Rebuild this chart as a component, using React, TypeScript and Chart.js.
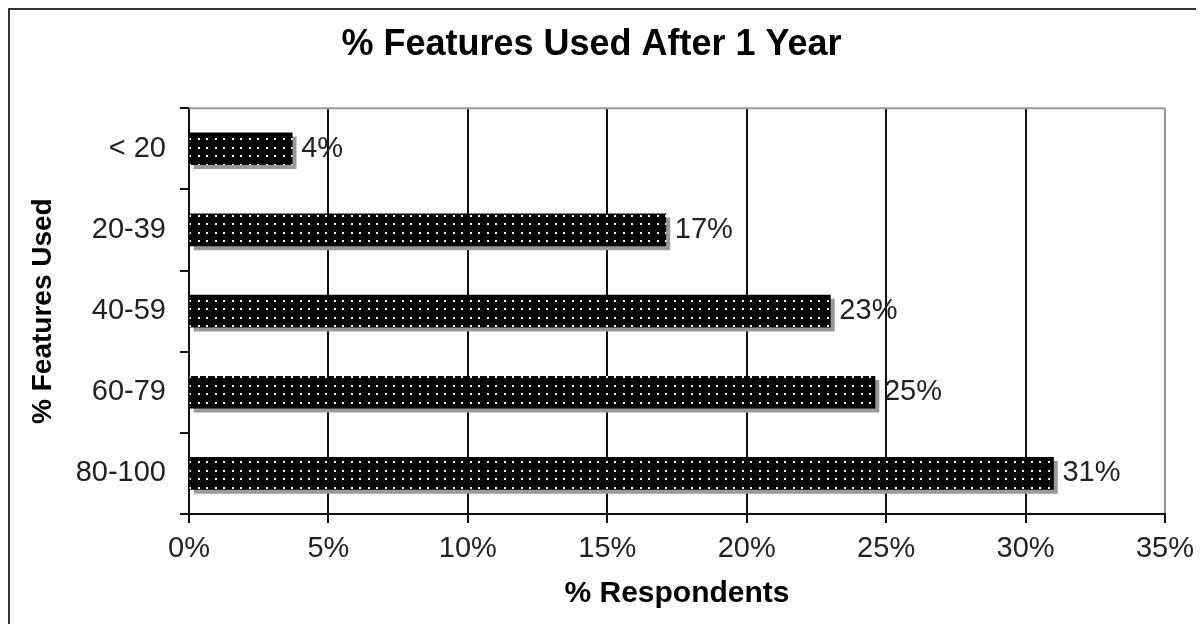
import React, { useEffect, useRef } from 'react';
import { Chart, registerables } from 'chart.js';

Chart.register(...registerables);

const chartTitle = '% Features Used After 1 Year';
const yAxisTitle = '% Features Used';
const xAxisTitle = '% Respondents';
const categories = ['< 20', '20-39', '40-59', '60-79', '80-100'];
const respondents = [3.7, 17.1, 23.0, 24.6, 31.0];
const xTickValues = [0, 5, 10, 15, 20, 25, 30, 35];

const FONT = "'Liberation Sans', Arial, Helvetica, sans-serif";

function makeDotPattern(): CanvasPattern | string {
  const tile = document.createElement('canvas');
  tile.width = 17;
  tile.height = 17;
  const t = tile.getContext('2d');
  if (!t) return '#000';
  t.fillStyle = '#000';
  t.fillRect(0, 0, 17, 17);
  t.fillStyle = '#f4f4f4';
  const pts = [
    [3, 3],
    [11, 3],
    [3, 11],
    [11, 11],
  ];
  pts.forEach(([x, y]) => {
    t.fillRect(x, y, 2, 2);
  });
  const ctx = document.createElement('canvas').getContext('2d');
  const p = ctx ? ctx.createPattern(tile, 'repeat') : null;
  return p || '#000';
}

const framePlugin = {
  id: 'frame',
  beforeDraw(chart: any) {
    const { ctx, width, height } = chart;
    ctx.save();
    ctx.fillStyle = '#fff';
    ctx.fillRect(0, 0, width, height);
    ctx.strokeStyle = '#333';
    ctx.lineWidth = 2;
    ctx.beginPath();
    ctx.moveTo(1, height);
    ctx.lineTo(1, 1);
    ctx.lineTo(width - 1, 1);
    ctx.lineTo(width - 1, height);
    ctx.stroke();
    ctx.restore();
  },
  beforeDatasetsDraw(chart: any) {
    const { ctx, chartArea } = chart;
    ctx.save();
    ctx.strokeStyle = '#999';
    ctx.lineWidth = 2;
    ctx.beginPath();
    ctx.moveTo(chartArea.left, chartArea.top);
    ctx.lineTo(chartArea.right, chartArea.top);
    ctx.stroke();
    ctx.restore();
  },
  beforeDatasetDraw(chart: any) {
    const { ctx } = chart;
    ctx.save();
    ctx.shadowColor = '#999';
    ctx.shadowOffsetX = 4;
    ctx.shadowOffsetY = 4;
    ctx.shadowBlur = 0;
  },
  afterDatasetDraw(chart: any) {
    chart.ctx.restore();
  },
  afterDatasetsDraw(chart: any) {
    const { ctx } = chart;
    const meta = chart.getDatasetMeta(0);
    const data = chart.data.datasets[0].data as number[];
    ctx.save();
    ctx.font = `29px ${FONT}`;
    ctx.fillStyle = '#222';
    ctx.textAlign = 'left';
    ctx.textBaseline = 'middle';
    meta.data.forEach((bar: any, i: number) => {
      ctx.fillText(Math.round(data[i]) + '%', bar.x + 9, bar.y);
    });
    ctx.restore();
  },
};

export default function App() {
  const ref = useRef<HTMLCanvasElement | null>(null);

  useEffect(() => {
    if (!ref.current) return;
    const pattern = makeDotPattern();
    const chart = new Chart(ref.current, {
      type: 'bar',
      data: {
        labels: categories,
        datasets: [
          {
            data: respondents,
            backgroundColor: pattern as any,
            borderWidth: 0,
            barThickness: 32,
          },
        ],
      },
      options: {
        indexAxis: 'y',
        animation: false,
        responsive: false,
        maintainAspectRatio: false,
        layout: { padding: { left: 0, right: 25, top: 0, bottom: 0 } },
        plugins: {
          legend: { display: false },
          tooltip: { enabled: false },
          title: {
            display: true,
            text: chartTitle,
            color: '#000',
            font: { family: FONT, size: 36, weight: 'bold' },
            padding: { top: 15, bottom: 42 },
          },
        },
        scales: {
          x: {
            type: 'linear',
            min: xTickValues[0],
            max: xTickValues[xTickValues.length - 1],
            afterBuildTicks: (scale: any) => {
              scale.ticks = xTickValues.map((v) => ({ value: v }));
            },
            afterFit: (scale: any) => {
              scale.height = 110;
              scale.paddingRight = 35;
              scale.paddingLeft = 0;
            },
            ticks: {
              color: '#222',
              font: { family: FONT, size: 29 },
              padding: 9,
              maxRotation: 0,
              callback: (v: any) => v + '%',
            },
            grid: {
              color: (c: any) => (c.tick && c.tick.value === 35 ? '#999' : '#111'),
              tickColor: '#111',
              lineWidth: 2,
              tickLength: 9,
              drawTicks: true,
            },
            border: { display: true, color: '#111', width: 2 },
            title: {
              display: true,
              text: xAxisTitle,
              color: '#000',
              font: { family: FONT, size: 30, weight: 'bold' },
              padding: { top: 0, bottom: 12 },
            },
          },
          y: {
            type: 'category',
            afterFit: (scale: any) => {
              scale.width = 181;
            },
            ticks: {
              color: '#222',
              font: { family: FONT, size: 29 },
              padding: 14,
            },
            grid: {
              drawOnChartArea: false,
              drawTicks: true,
              tickLength: 9,
              tickColor: '#111',
              lineWidth: 2,
              offset: true,
            },
            border: { display: true, color: '#111', width: 2 },
            title: {
              display: true,
              text: yAxisTitle,
              color: '#000',
              font: { family: FONT, size: 28, weight: 'bold' },
              padding: { top: 18, bottom: 0 },
            },
          },
        },
      },
      plugins: [framePlugin],
    });
    return () => chart.destroy();
  }, []);

  return (
    <div style={{ width: 1192, height: 616 }}>
      <canvas ref={ref} width={1192} height={616} style={{ display: 'block', width: 1192, height: 616 }} />
    </div>
  );
}
